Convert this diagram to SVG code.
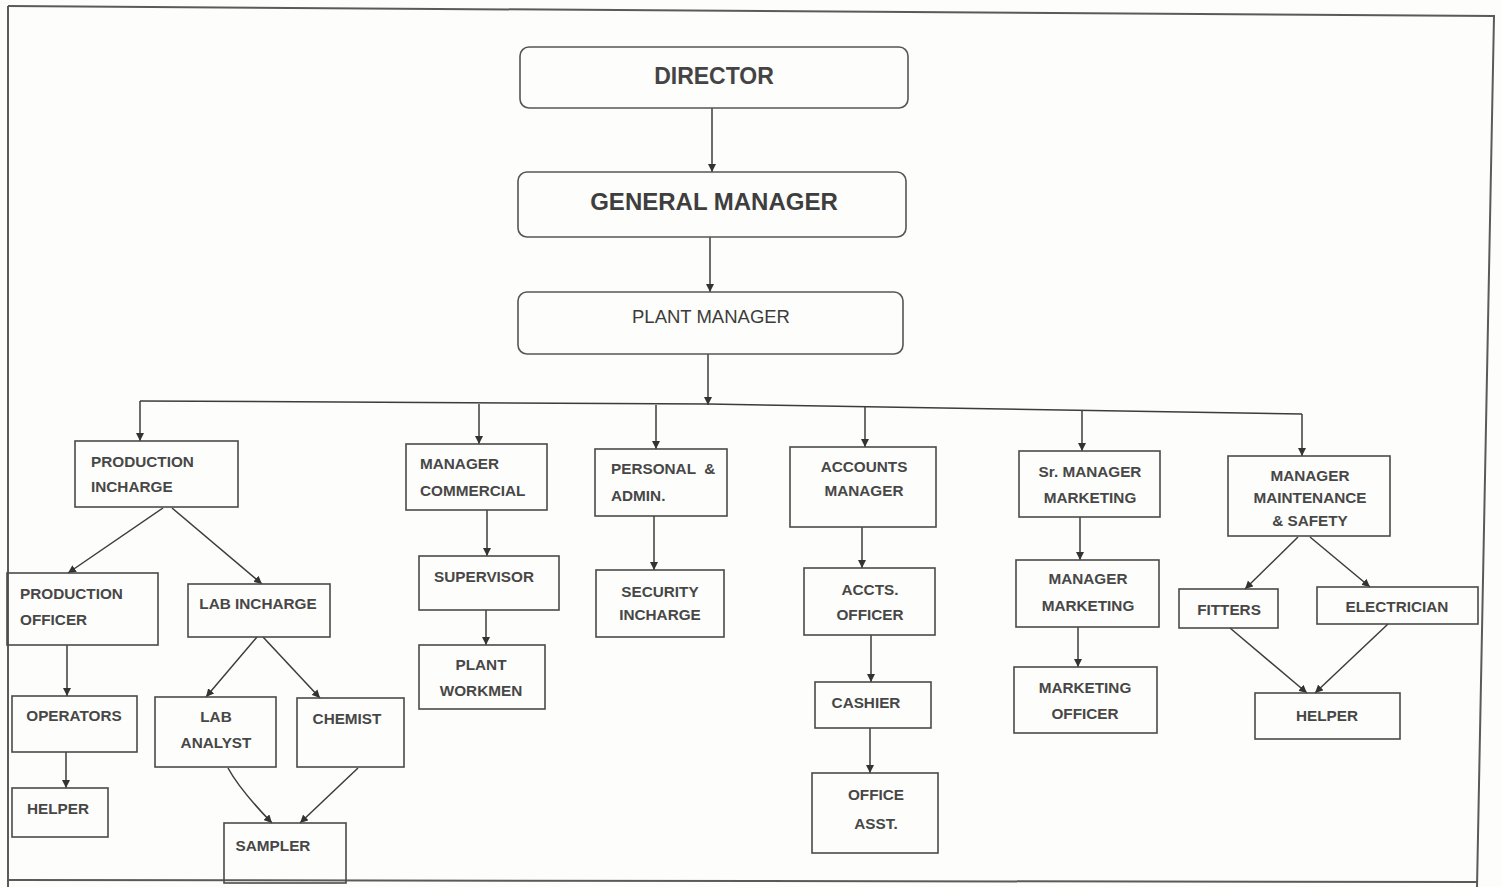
<svg xmlns="http://www.w3.org/2000/svg" width="1502" height="887" viewBox="0 0 1502 887">
<defs>
<style>
.box{fill:none;stroke:#4a4a4a;stroke-width:1.6}
.rbox{fill:none;stroke:#555;stroke-width:1.6}
.t{font-family:"Liberation Sans",Arial,sans-serif;fill:#474747;font-size:15.3px;font-weight:bold}
.c{text-anchor:middle}
.d{font-size:23px;fill:#444}
.g{font-size:24px;fill:#3e3e3e}
.p{font-size:18.5px;font-weight:normal;fill:#3c3c3c}
.ln{fill:none;stroke:#3c3c3c;stroke-width:1.5;marker-end:url(#ah)}
.bus{fill:none;stroke:#3c3c3c;stroke-width:1.5}
.frame{fill:none;stroke:#5a5a5a;stroke-width:2}
</style>
<marker id="ah" markerUnits="userSpaceOnUse" markerWidth="9" markerHeight="8" refX="8" refY="4" orient="auto">
<path d="M0,0 L8,4 L0,8 z" fill="#333"/>
</marker>
</defs>
<rect x="0" y="0" width="1502" height="887" fill="#fdfdfb"/>
<g id="frame">
<path class="frame" d="M8,6 L1494,16 L1477,887"/>
<path class="frame" d="M8,6 L8,887"/>
<path class="frame" d="M8,880 L1477,882"/>
</g>
<g id="connectors">
<line class="ln" x1="712" y1="108" x2="712" y2="172"/>
<line class="ln" x1="710" y1="237" x2="710" y2="292"/>
<line class="ln" x1="708" y1="354" x2="708" y2="405"/>
<polyline class="bus" points="140,401 708,404 1302,414"/>
<line class="ln" x1="140" y1="401" x2="140" y2="441"/>
<line class="ln" x1="479" y1="404" x2="479" y2="444"/>
<line class="ln" x1="656" y1="405" x2="656" y2="449"/>
<line class="ln" x1="865" y1="407" x2="865" y2="447"/>
<line class="ln" x1="1082" y1="410" x2="1082" y2="451"/>
<line class="ln" x1="1302" y1="414" x2="1302" y2="456"/>
<line class="ln" x1="163" y1="508" x2="68" y2="573"/>
<line class="ln" x1="172" y1="508" x2="262" y2="584"/>
<line class="ln" x1="67" y1="645" x2="67" y2="696"/>
<line class="ln" x1="66" y1="752" x2="66" y2="788"/>
<line class="ln" x1="257" y1="637" x2="206" y2="697"/>
<line class="ln" x1="263" y1="637" x2="320" y2="698"/>
<path class="ln" d="M228,768 Q240,790 272,823"/>
<line class="ln" x1="358" y1="768" x2="300" y2="823"/>
<line class="ln" x1="487" y1="510" x2="487" y2="556"/>
<line class="ln" x1="486" y1="610" x2="486" y2="645"/>
<line class="ln" x1="654" y1="516" x2="654" y2="570"/>
<line class="ln" x1="862" y1="527" x2="862" y2="568"/>
<line class="ln" x1="871" y1="635" x2="871" y2="682"/>
<line class="ln" x1="870" y1="728" x2="870" y2="773"/>
<line class="ln" x1="1080" y1="517" x2="1080" y2="560"/>
<line class="ln" x1="1078" y1="627" x2="1078" y2="667"/>
<line class="ln" x1="1298" y1="537" x2="1245" y2="589"/>
<line class="ln" x1="1310" y1="537" x2="1370" y2="587"/>
<line class="ln" x1="1230" y1="628" x2="1307" y2="693"/>
<line class="ln" x1="1388" y1="624" x2="1315" y2="693"/>
</g>
<g id="director">
<rect class="rbox" x="520" y="47" width="388" height="61" rx="9"/>
<text class="t c d" x="714" y="84">DIRECTOR</text>
</g>
<g id="general-manager">
<rect class="rbox" x="518" y="172" width="388" height="65" rx="9"/>
<text class="t c g" x="714" y="210">GENERAL MANAGER</text>
</g>
<g id="plant-manager">
<rect class="rbox" x="518" y="292" width="385" height="62" rx="9"/>
<text class="t c p" x="711" y="323">PLANT MANAGER</text>
</g>
<g id="production-incharge">
<rect class="box" x="75" y="441" width="163" height="66"/>
<text class="t" x="91" y="467">PRODUCTION</text>
<text class="t" x="91" y="492">INCHARGE</text>
</g>
<g id="manager-commercial">
<rect class="box" x="406" y="444" width="141" height="66"/>
<text class="t" x="420" y="469">MANAGER</text>
<text class="t" x="420" y="496">COMMERCIAL</text>
</g>
<g id="personal-admin">
<rect class="box" x="595" y="449" width="132" height="67"/>
<text class="t" x="611" y="474" xml:space="preserve">PERSONAL  &amp;</text>
<text class="t" x="611" y="501">ADMIN.</text>
</g>
<g id="accounts-manager">
<rect class="box" x="790" y="447" width="146" height="80"/>
<text class="t c" x="864" y="472">ACCOUNTS</text>
<text class="t c" x="864" y="496">MANAGER</text>
</g>
<g id="sr-manager-marketing">
<rect class="box" x="1019" y="451" width="141" height="66"/>
<text class="t c" x="1090" y="477">Sr. MANAGER</text>
<text class="t c" x="1090" y="503">MARKETING</text>
</g>
<g id="manager-maintenance">
<rect class="box" x="1228" y="456" width="162" height="80"/>
<text class="t c" x="1310" y="481">MANAGER</text>
<text class="t c" x="1310" y="503">MAINTENANCE</text>
<text class="t c" x="1310" y="526">&amp; SAFETY</text>
</g>
<g id="production-officer">
<rect class="box" x="7" y="573" width="151" height="72"/>
<text class="t" x="20" y="599">PRODUCTION</text>
<text class="t" x="20" y="625">OFFICER</text>
</g>
<g id="lab-incharge">
<rect class="box" x="188" y="584" width="142" height="53"/>
<text class="t c" x="258" y="609">LAB INCHARGE</text>
</g>
<g id="operators">
<rect class="box" x="12" y="696" width="125" height="56"/>
<text class="t c" x="74" y="721">OPERATORS</text>
</g>
<g id="helper-1">
<rect class="box" x="12" y="788" width="96" height="49"/>
<text class="t" x="27" y="814">HELPER</text>
</g>
<g id="lab-analyst">
<rect class="box" x="155" y="697" width="121" height="70"/>
<text class="t c" x="216" y="722">LAB</text>
<text class="t c" x="216" y="748">ANALYST</text>
</g>
<g id="chemist">
<rect class="box" x="297" y="698" width="107" height="69"/>
<text class="t c" x="347" y="724">CHEMIST</text>
</g>
<g id="sampler">
<rect class="box" x="224" y="823" width="122" height="60"/>
<text class="t c" x="273" y="851">SAMPLER</text>
</g>
<g id="supervisor">
<rect class="box" x="419" y="556" width="140" height="54"/>
<text class="t c" x="484" y="582">SUPERVISOR</text>
</g>
<g id="plant-workmen">
<rect class="box" x="419" y="645" width="126" height="64"/>
<text class="t c" x="481" y="670">PLANT</text>
<text class="t c" x="481" y="696">WORKMEN</text>
</g>
<g id="security-incharge">
<rect class="box" x="596" y="570" width="128" height="67"/>
<text class="t c" x="660" y="597">SECURITY</text>
<text class="t c" x="660" y="620">INCHARGE</text>
</g>
<g id="accts-officer">
<rect class="box" x="804" y="568" width="131" height="67"/>
<text class="t c" x="870" y="595">ACCTS.</text>
<text class="t c" x="870" y="620">OFFICER</text>
</g>
<g id="cashier">
<rect class="box" x="815" y="682" width="116" height="46"/>
<text class="t c" x="866" y="708">CASHIER</text>
</g>
<g id="office-asst">
<rect class="box" x="812" y="773" width="126" height="80"/>
<text class="t c" x="876" y="800">OFFICE</text>
<text class="t c" x="876" y="829">ASST.</text>
</g>
<g id="manager-marketing">
<rect class="box" x="1016" y="560" width="143" height="67"/>
<text class="t c" x="1088" y="584">MANAGER</text>
<text class="t c" x="1088" y="611">MARKETING</text>
</g>
<g id="marketing-officer">
<rect class="box" x="1014" y="667" width="143" height="66"/>
<text class="t c" x="1085" y="693">MARKETING</text>
<text class="t c" x="1085" y="719">OFFICER</text>
</g>
<g id="fitters">
<rect class="box" x="1179" y="589" width="99" height="39"/>
<text class="t c" x="1229" y="615">FITTERS</text>
</g>
<g id="electrician">
<rect class="box" x="1317" y="587" width="161" height="37"/>
<text class="t c" x="1397" y="612">ELECTRICIAN</text>
</g>
<g id="helper-2">
<rect class="box" x="1255" y="693" width="145" height="46"/>
<text class="t c" x="1327" y="721">HELPER</text>
</g>
</svg>
